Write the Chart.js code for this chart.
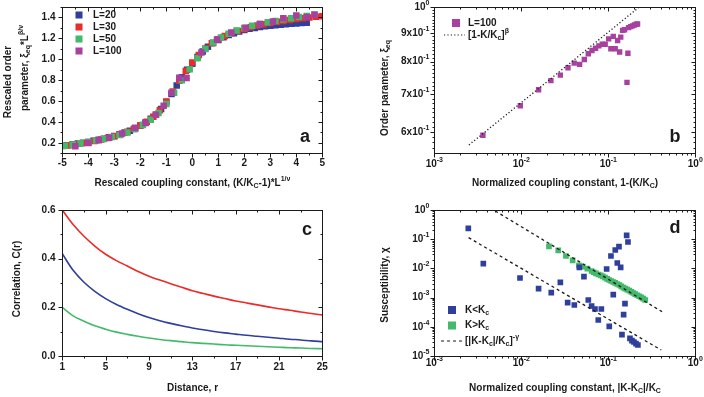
<!DOCTYPE html>
<html>
<head>
<meta charset="utf-8">
<script src="https://cdn.jsdelivr.net/npm/chart.js@4.4.0/dist/chart.umd.min.js"></script>
<style>
  body { margin: 0; background: #fff; }
  #fig { position: relative; width: 704px; height: 397px; overflow: hidden; background: #fff; }
  canvas { position: absolute; }
</style>
</head>
<body>
<div id="fig">
  <canvas id="pa" width="352" height="195" style="left:0;top:0"></canvas>
  <canvas id="pb" width="352" height="195" style="left:352px;top:0"></canvas>
  <canvas id="pc" width="352" height="202" style="left:0;top:195px"></canvas>
  <canvas id="pd" width="352" height="202" style="left:352px;top:195px"></canvas>
</div>
<script>
'use strict';

// ---- panel a : rescaled order parameter vs rescaled coupling ----
const aX20 = [-5.0, -4.8, -4.6, -4.4, -4.2, -4.0, -3.8, -3.6, -3.4, -3.2, -3.0, -2.8, -2.6, -2.4, -2.2, -2.0, -1.8, -1.6, -1.4, -1.2, -1.0, -0.8, -0.6, -0.4, -0.2, 0.0, 0.2, 0.4, 0.6, 0.8, 1.0, 1.2, 1.4, 1.6, 1.8, 2.0, 2.2, 2.4, 2.6, 2.8, 3.0, 3.2, 3.4, 3.6, 3.8, 4.0, 4.2, 4.4];
const aY20 = [0.172, 0.178, 0.186, 0.193, 0.201, 0.209, 0.219, 0.229, 0.240, 0.253, 0.266, 0.282, 0.298, 0.316, 0.340, 0.366, 0.395, 0.430, 0.470, 0.525, 0.592, 0.668, 0.748, 0.828, 0.900, 0.958, 1.022, 1.075, 1.120, 1.155, 1.185, 1.210, 1.232, 1.250, 1.266, 1.280, 1.291, 1.300, 1.308, 1.315, 1.321, 1.326, 1.331, 1.335, 1.339, 1.342, 1.346, 1.349];
const aX30 = [-5.0, -4.75, -4.5, -4.25, -4.0, -3.75, -3.5, -3.25, -3.0, -2.75, -2.5, -2.25, -2.0, -1.75, -1.5, -1.25, -1.0, -0.75, -0.5, -0.25, 0.0, 0.25, 0.5, 0.75, 1.0, 1.25, 1.5, 1.75, 2.0, 2.25, 2.5, 2.75, 3.0, 3.25, 3.5, 3.75, 4.0, 4.25, 4.5, 4.75, 5.0];
const aY30 = [0.170, 0.178, 0.186, 0.196, 0.206, 0.218, 0.232, 0.247, 0.264, 0.283, 0.305, 0.333, 0.366, 0.403, 0.450, 0.512, 0.596, 0.692, 0.795, 0.888, 0.968, 1.040, 1.102, 1.152, 1.192, 1.222, 1.248, 1.270, 1.290, 1.307, 1.322, 1.336, 1.348, 1.358, 1.367, 1.376, 1.385, 1.393, 1.400, 1.406, 1.412];
const aX50 = [-4.9, -4.6, -4.3, -4.0, -3.7, -3.4, -3.1, -2.8, -2.5, -2.2, -1.9, -1.6, -1.3, -1.0, -0.7, -0.4, -0.1, 0.2, 0.5, 0.8, 1.1, 1.4, 1.7, 2.0, 2.3, 2.6, 2.9, 3.2, 3.5, 3.8, 4.1, 4.4, 4.7];
const aY50 = [0.172, 0.183, 0.195, 0.207, 0.222, 0.238, 0.256, 0.276, 0.300, 0.332, 0.372, 0.420, 0.485, 0.572, 0.680, 0.800, 0.905, 1.010, 1.098, 1.160, 1.208, 1.245, 1.276, 1.300, 1.320, 1.338, 1.353, 1.367, 1.380, 1.392, 1.404, 1.415, 1.428];
const aX100 = [-4.5, -4.0, -3.6, -3.2, -2.7, -2.2, -1.8, -1.4, -1.1, -0.8, -0.5, -0.22, 0.35, 0.95, 1.5, 2.05, 2.6, 3.1, 3.5, 4.0, 4.4, 4.7];
const aY100 = [0.168, 0.198, 0.225, 0.248, 0.290, 0.345, 0.390, 0.470, 0.555, 0.680, 0.822, 0.820, 1.065, 1.188, 1.255, 1.302, 1.338, 1.362, 1.392, 1.418, 1.405, 1.425];
const aXTicks = [-5, -4, -3, -2, -1, 0, 1, 2, 3, 4, 5];
const aYTicks = [0.2, 0.4, 0.6, 0.8, 1.0, 1.2, 1.4];

// ---- panel b : order parameter, L=100 ----
const bX = [0.00362, 0.00974, 0.0158, 0.0219, 0.0281, 0.0344, 0.0406, 0.0468, 0.053, 0.0589, 0.0649, 0.0714, 0.078, 0.0853, 0.0921, 0.101, 0.107, 0.114, 0.120, 0.128, 0.135, 0.139, 0.146, 0.154, 0.164, 0.168, 0.171, 0.181, 0.190, 0.200, 0.210, 0.217];
const bY = [0.592, 0.668, 0.713, 0.740, 0.757, 0.780, 0.795, 0.791, 0.807, 0.826, 0.837, 0.845, 0.853, 0.859, 0.859, 0.878, 0.843, 0.887, 0.843, 0.872, 0.832, 0.884, 0.909, 0.911, 0.735, 0.828, 0.919, 0.923, 0.926, 0.929, 0.932, 0.933];
const bFitX = [0.0025, 0.227];
const bFitY = [0.569, 1.0];
const bXExp = [-3, -2, -1, 0];
const bYTicks = [0.6, 0.7, 0.8, 0.9, 1.0];
const bYMant = ['6', '7', '8', '9', ''];

// ---- panel c : correlation vs distance ----
const cDist = [1, 2, 3, 4, 5, 6, 7, 8, 9, 10, 11, 12, 13, 14, 15, 16, 17, 18, 19, 20, 21, 22, 23, 24, 25];
const cRed = [0.600, 0.540, 0.492, 0.452, 0.418, 0.392, 0.370, 0.347, 0.328, 0.312, 0.297, 0.283, 0.268, 0.257, 0.246, 0.236, 0.226, 0.218, 0.210, 0.202, 0.194, 0.188, 0.181, 0.175, 0.168];
const cBlue = [0.420, 0.352, 0.303, 0.266, 0.236, 0.212, 0.192, 0.174, 0.158, 0.145, 0.134, 0.124, 0.115, 0.108, 0.101, 0.095, 0.090, 0.085, 0.081, 0.077, 0.073, 0.069, 0.066, 0.062, 0.059];
const cGreen = [0.200, 0.165, 0.143, 0.124, 0.110, 0.098, 0.089, 0.081, 0.074, 0.068, 0.063, 0.059, 0.055, 0.052, 0.049, 0.046, 0.044, 0.042, 0.040, 0.038, 0.036, 0.034, 0.033, 0.031, 0.030];
const cXTicks = [1, 5, 9, 13, 17, 21, 25];
const cYTicks = [0.0, 0.2, 0.4, 0.6];

// ---- panel d : susceptibility ----
const dBelowX = [0.00246, 0.00366, 0.00966, 0.0158, 0.0221, 0.0281, 0.0341, 0.0407, 0.0465, 0.0525, 0.0589, 0.0643, 0.0703, 0.0767, 0.0832, 0.0957, 0.1026, 0.1073, 0.1141, 0.1203, 0.1269, 0.1327, 0.1387, 0.1436, 0.150, 0.1555, 0.1625, 0.1683, 0.1774, 0.187, 0.197, 0.208, 0.219];
const dBelowY = [0.2355, 0.01452, 0.00469, 0.00202, 0.001476, 0.00333, 0.00067, 0.000558, 0.01088, 0.00521, 0.000828, 0.000516, 0.000407, 0.000171, 0.000407, 0.00953, 0.000104, 0.0266, 0.00126, 0.0427, 0.0153, 0.0555, 0.01088, 0.0000538, 0.00026, 0.00062, 0.1356, 0.0802, 0.0000403, 0.0000335, 0.0000302, 0.0000264, 0.0000238];
const dAboveX = [0.0208, 0.0266, 0.0326, 0.0389, 0.046, 0.0507, 0.0574, 0.0643, 0.068, 0.0721, 0.077, 0.0817, 0.0866, 0.0916, 0.097, 0.1026, 0.108, 0.1141, 0.120, 0.1269, 0.134, 0.141, 0.149, 0.1567, 0.165, 0.1742, 0.184, 0.1937, 0.204, 0.2153, 0.227, 0.2393, 0.252, 0.266];
const dAboveY = [0.0570, 0.0416, 0.0266, 0.0189, 0.0127, 0.01146, 0.0098, 0.00815, 0.0074, 0.00678, 0.0062, 0.00579, 0.0053, 0.00482, 0.0044, 0.00401, 0.0037, 0.00342, 0.0032, 0.00292, 0.0027, 0.00243, 0.0022, 0.00202, 0.00187, 0.00173, 0.00158, 0.00144, 0.00131, 0.0012, 0.00111, 0.00102, 0.00092, 0.000828];
const dFitAboveX = [0.00502, 0.414];
const dFitAboveY = [0.924, 0.00033];
const dFitBelowX = [0.00248, 0.406];
const dFitBelowY = [0.113, 0.000016];
const dXExp = [-3, -2, -1, 0];
const dYExp = [-5, -4, -3, -2, -1, 0];

const FONT = '"Liberation Sans", Arial, Helvetica, sans-serif';
const INK = '#1a1a1a';
const BLUE = '#2e3f9c';
const RED = '#ec2a27';
const GREEN = '#43b96a';
const PURPLE = '#a8409f';

const pts = (xs, ys) => xs.map((x, i) => ({ x, y: ys[i] }));
const sup = t => [t, 'sup'];
const sub = t => [t, 'sub'];

// text with sub/superscripts, parts are strings or [text, 'sub'|'sup']
function rich(ctx, parts, x, y, size, align) {
    const segs = (Array.isArray(parts) ? parts : [parts]).map(p => typeof p === 'string' ? { t: p, m: '' } : { t: p[0], m: p[1] });
    let w = 0;
    segs.forEach(s => {
        ctx.font = `bold ${s.m ? Math.round(size * 0.72) : size}px ${FONT}`;
        s.w = ctx.measureText(s.t).width;
        w += s.w;
    });
    let cx = align === 'center' ? x - w / 2 : align === 'right' ? x - w : x;
    ctx.textAlign = 'left';
    ctx.textBaseline = 'middle';
    segs.forEach(s => {
        ctx.font = `bold ${s.m ? Math.round(size * 0.72) : size}px ${FONT}`;
        const dy = s.m === 'sup' ? -size * 0.42 : s.m === 'sub' ? size * 0.3 : 0;
        ctx.fillText(s.t, cx, y + dy);
        cx += s.w;
    });
}

function logMinor(lo, hi) {
    const out = [];
    for (let e = lo; e < hi; e++) for (let m = 2; m <= 9; m++) out.push(m * Math.pow(10, e));
    return out;
}
function stepList(from, to, step) {
    const out = [];
    for (let v = from; v <= to + 1e-9; v += step) out.push(+v.toFixed(5));
    return out;
}

const cfgs = {};

const axesPlugin = {
    id: 'axes',
    afterDraw(chart) {
        const c = cfgs[chart.canvas.id];
        const ctx = chart.ctx, a = chart.chartArea;
        const xs = chart.scales.x, ys = chart.scales.y;
        const L = Math.round(a.left) + 0.5, R = Math.round(a.right) + 0.5;
        const T = Math.round(a.top) + 0.5, B = Math.round(a.bottom) + 0.5;
        ctx.save();
        ctx.strokeStyle = INK;
        ctx.fillStyle = INK;
        ctx.lineWidth = 1;
        ctx.strokeRect(L, T, R - L, B - T);

        ctx.beginPath();
        const xt = (v, len) => {
            const p = Math.round(xs.getPixelForValue(v)) + 0.5;
            ctx.moveTo(p, B); ctx.lineTo(p, B + len);
            ctx.moveTo(p, T); ctx.lineTo(p, T + len);
        };
        const yt = (v, len) => {
            const p = Math.round(ys.getPixelForValue(v)) + 0.5;
            ctx.moveTo(L, p); ctx.lineTo(L - len, p);
            ctx.moveTo(R, p); ctx.lineTo(R - len, p);
        };
        c.xMajor.forEach(v => xt(v, 4));
        c.xMinor.forEach(v => xt(v, 2));
        c.yMajor.forEach(v => yt(v, 4));
        c.yMinor.forEach(v => yt(v, 2));
        ctx.stroke();

        c.xMajor.forEach((v, i) => rich(ctx, c.xLabels[i], xs.getPixelForValue(v), B + c.xGap, 10, 'center'));
        c.yMajor.forEach((v, i) => rich(ctx, c.yLabels[i], L - c.yGap, ys.getPixelForValue(v), 10, 'right'));

        rich(ctx, c.xTitle, (L + R) / 2, c.xTitleY, 10, 'center');
        c.yTitle.forEach(t => {
            ctx.save();
            ctx.translate(t.x, t.y);
            ctx.rotate(-Math.PI / 2);
            rich(ctx, t.parts, 0, 0, 10, 'center');
            ctx.restore();
        });

        ctx.font = `bold 18px ${FONT}`;
        ctx.textAlign = 'center';
        ctx.textBaseline = 'middle';
        ctx.fillText(c.letter.t, c.letter.x, c.letter.y);

        const lg = c.legend;
        lg.items.forEach((it, i) => {
            const y = lg.y + i * lg.dy;
            if (it.kind === 'square') {
                ctx.fillStyle = it.color;
                ctx.fillRect(lg.x - lg.size / 2, y - lg.size / 2, lg.size, lg.size);
            } else {
                ctx.strokeStyle = INK;
                ctx.lineWidth = 1.2;
                ctx.setLineDash(it.dash);
                ctx.beginPath();
                ctx.moveTo(lg.lineX0, y); ctx.lineTo(lg.lineX1, y);
                ctx.stroke();
                ctx.setLineDash([]);
            }
            ctx.fillStyle = INK;
            rich(ctx, it.label, lg.textX, y, 10, 'left');
        });
        ctx.restore();
    }
};

function makeChart(id, pad, xScale, yScale, datasets) {
    return new Chart(document.getElementById(id), {
        type: 'scatter',
        data: { datasets },
        options: {
            responsive: false,
            animation: false,
            devicePixelRatio: 1,
            layout: { padding: pad },
            scales: {
                x: Object.assign({ display: false, bounds: 'data' }, xScale),
                y: Object.assign({ display: false, bounds: 'data' }, yScale)
            },
            plugins: { legend: { display: false }, tooltip: { enabled: false } }
        },
        plugins: [axesPlugin]
    });
}

const squares = (data, color, r) => ({ data, backgroundColor: color, borderWidth: 0, pointStyle: 'rect', pointRadius: r, showLine: false });
const fitLine = (data, dash) => ({ data, showLine: true, borderColor: INK, borderWidth: 1.3, borderDash: dash, pointRadius: 0, fill: false });
const curve = (data, color) => ({ data, showLine: true, borderColor: color, borderWidth: 1.6, pointRadius: 0, fill: false, cubicInterpolationMode: 'monotone' });

// panel a
cfgs.pa = {
    xMajor: aXTicks, xMinor: stepList(-4.5, 4.5, 1), xLabels: aXTicks.map(String), xGap: 10,
    yMajor: aYTicks, yMinor: stepList(0.1, 1.5, 0.2), yLabels: aYTicks.map(v => v.toFixed(1)), yGap: 7,
    xTitle: ['Rescaled coupling constant, (K/K', sub('C'), '-1)*L', sup('1/ν')], xTitleY: 183,
    yTitle: [{ x: 8, y: 82, parts: ['Rescaled order'] }, { x: 25, y: 68, parts: ['parameter, ξ', sub('eq'), '*L', sup('β/ν')] }],
    letter: { t: 'a', x: 305, y: 137 },
    legend: { x: 79, y: 15, dy: 12, size: 7, textX: 93, items: [
        { kind: 'square', color: BLUE, label: 'L=20' },
        { kind: 'square', color: RED, label: 'L=30' },
        { kind: 'square', color: GREEN, label: 'L=50' },
        { kind: 'square', color: PURPLE, label: 'L=100' }
    ] }
};
makeChart('pa', { left: 62.3, right: 29.7, top: 7, bottom: 41.7 },
    { type: 'linear', min: -5, max: 5 },
    { type: 'linear', min: 0.1, max: 1.5 },
    [
        squares(pts(aX100, aY100), PURPLE, 4.6),
        squares(pts(aX50, aY50), GREEN, 4.6),
        squares(pts(aX30, aY30), RED, 4.6),
        squares(pts(aX20, aY20), BLUE, 4.6)
    ]);

// panel b
cfgs.pb = {
    xMajor: bXExp.map(e => Math.pow(10, e)), xMinor: logMinor(-3, 0), xLabels: bXExp.map(e => ['10', sup(String(e))]), xGap: 11,
    yMajor: bYTicks, yMinor: stepList(0.5625, 0.9875, 0.0125).filter(v => bYTicks.indexOf(+v.toFixed(4)) < 0),
    yLabels: bYMant.map(m => m ? [m + 'x10', sup('-1')] : ['10', sup('0')]), yGap: 5,
    xTitle: ['Normalized coupling constant, 1-(K/K', sub('C'), ')'], xTitleY: 183,
    yTitle: [{ x: 33, y: 88, parts: ['Order parameter, ξ', sub('eq')] }],
    letter: { t: 'b', x: 323, y: 137 },
    legend: { x: 104, y: 23, dy: 12, size: 8, textX: 116, lineX0: 92, lineX1: 113, items: [
        { kind: 'square', color: PURPLE, label: 'L=100' },
        { kind: 'line', dash: [1.2, 2.2], label: ['[1-K/K', sub('c'), ']', sup('β')] }
    ] }
};
makeChart('pb', { left: 82.3, right: 8.7, top: 7, bottom: 41.7 },
    { type: 'logarithmic', min: 0.001, max: 1 },
    { type: 'logarithmic', min: 0.55, max: 1.0 },
    [
        fitLine(pts(bFitX, bFitY), [1.2, 2.2]),
        squares(pts(bX, bY), PURPLE, 3.8)
    ]);

// panel c
cfgs.pc = {
    xMajor: cXTicks, xMinor: stepList(3, 23, 4), xLabels: cXTicks.map(String), xGap: 11,
    yMajor: cYTicks, yMinor: [0.1, 0.3, 0.5], yLabels: cYTicks.map(v => v.toFixed(1)), yGap: 7,
    xTitle: ['Distance, r'], xTitleY: 193,
    yTitle: [{ x: 17, y: 84, parts: ['Correlation, C(r)'] }],
    letter: { t: 'c', x: 307, y: 35 },
    legend: { x: 0, y: 0, dy: 0, size: 0, textX: 0, items: [] }
};
makeChart('pc', { left: 62.3, right: 29.7, top: 15, bottom: 41 },
    { type: 'linear', min: 1, max: 25 },
    { type: 'linear', min: 0, max: 0.6 },
    [
        curve(pts(cDist, cRed), RED),
        curve(pts(cDist, cBlue), BLUE),
        curve(pts(cDist, cGreen), GREEN)
    ]);

// panel d
cfgs.pd = {
    xMajor: dXExp.map(e => Math.pow(10, e)), xMinor: logMinor(-3, 0), xLabels: dXExp.map(e => ['10', sup(String(e))]), xGap: 7,
    yMajor: dYExp.map(e => Math.pow(10, e)), yMinor: logMinor(-5, 0), yLabels: dYExp.map(e => ['10', sup(String(e))]), yGap: 5,
    xTitle: ['Normalized coupling constant, |K-K', sub('C'), '|/K', sub('C')], xTitleY: 193,
    yTitle: [{ x: 33, y: 90, parts: ['Susceptibility, χ'] }],
    letter: { t: 'd', x: 323, y: 33 },
    legend: { x: 100, y: 115, dy: 15.5, size: 8, textX: 113, lineX0: 89, lineX1: 110, items: [
        { kind: 'square', color: BLUE, label: ['K<K', sub('c')] },
        { kind: 'square', color: GREEN, label: ['K>K', sub('c')] },
        { kind: 'line', dash: [3, 3], label: ['[|K-K', sub('c'), '|/K', sub('c'), ']', sup('-γ')] }
    ] }
};
makeChart('pd', { left: 82.3, right: 8.7, top: 15, bottom: 41 },
    { type: 'logarithmic', min: 0.001, max: 1 },
    { type: 'logarithmic', min: 0.00001, max: 1 },
    [
        fitLine(pts(dFitAboveX, dFitAboveY), [3, 3]),
        fitLine(pts(dFitBelowX, dFitBelowY), [3, 3]),
        squares(pts(dBelowX, dBelowY), BLUE, 4),
        squares(pts(dAboveX, dAboveY), GREEN, 4)
    ]);
</script>
</body>
</html>
